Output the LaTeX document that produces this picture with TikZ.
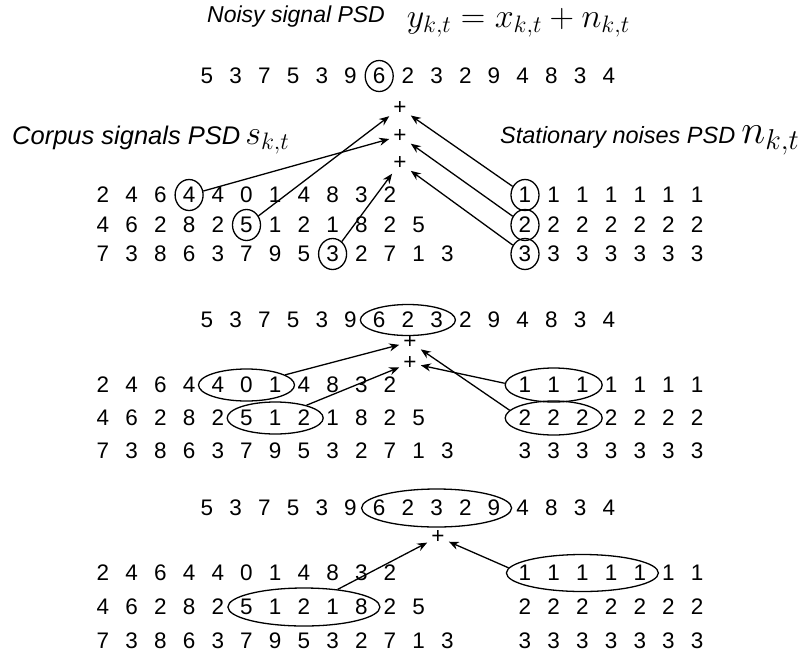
\RequirePackage{fix-cm}
\documentclass[tikz,border=0pt]{standalone}
\usepackage{fontspec}
\setmainfont{Liberation Sans}
\usetikzlibrary{arrows.meta,shapes.geometric}
\newcommand\digrow[4]{\foreach \d [count=\i from 0] in {#4} \node[dig] (#1-\i) at ({#2+\i*28.7},#3) {\d};}
\newcommand\bigmath[2]{{\fontsize{#1}{#1}\selectfont$#2$}}
\begin{document}
\begin{tikzpicture}[x=1pt,y=-1pt,
  dig/.style={inner sep=0pt, font=\fontsize{22.5}{25}\selectfont},
  plus/.style={inner sep=4pt, font=\fontsize{22.5}{25}\selectfont},
  ring/.style={draw, ellipse, inner sep=0pt, line width=1.3pt},
  arr/.style={line width=1.3pt, -{Stealth[length=10pt,width=8pt]}},
  lbl/.style={inner sep=0pt, anchor=base west}]
\useasboundingbox (0,0) rectangle (812,657);
% labels
\node[lbl] (title) at (207,22) {\fontsize{23}{26}\selectfont\itshape Noisy signal PSD\hspace{22pt}\raisebox{-5pt}{\bigmath{34}{y_{k,t}=x_{k,t}+n_{k,t}}}};
\node[lbl] (corpus) at (12,144) {\fontsize{25.5}{28}\selectfont\itshape Corpus signals PSD\hspace{5pt}\bigmath{34}{s_{k,t}}};
\node[lbl] (noise) at (500,143) {\fontsize{23.5}{27}\selectfont\itshape Stationary noises PSD\hspace{6pt}\bigmath{41}{n_{k,t}}};
% ---------- block 1
\digrow{T1}{207}{76}{5,3,7,5,3,9,6,2,3,2,9,4,8,3,4}
\digrow{La1}{103}{195}{2,4,6,4,4,0,1,4,8,3,2}
\digrow{Lb1}{103}{225}{4,6,2,8,2,5,1,2,1,8,2,5}
\digrow{Lc1}{103}{254}{7,3,8,6,3,7,9,5,3,2,7,1,3}
\digrow{Ra1}{525}{195}{1,1,1,1,1,1,1}
\digrow{Rb1}{525}{225}{2,2,2,2,2,2,2}
\digrow{Rc1}{525}{254}{3,3,3,3,3,3,3}
\node[plus] (p1a) at (400,108) {+};
\node[plus] (p1b) at (400,136) {+};
\node[plus] (p1c) at (400,163) {+};
\node[ring, minimum width=28pt, minimum height=31pt] (cT1) at (T1-6) {};
\node[ring, minimum width=28pt, minimum height=31pt] (cLa1) at (La1-3) {};
\node[ring, minimum width=28pt, minimum height=31pt] (cLb1) at (Lb1-5) {};
\node[ring, minimum width=28pt, minimum height=31pt] (cLc1) at (Lc1-8) {};
\node[ring, minimum width=28pt, minimum height=31pt] (cRa1) at (Ra1-0) {};
\node[ring, minimum width=28pt, minimum height=31pt] (cRb1) at (Rb1-0) {};
\node[ring, minimum width=28pt, minimum height=31pt] (cRc1) at (Rc1-0) {};
\draw[arr] (cLa1) -- (p1b);
\draw[arr] (cLb1) -- (p1a);
\draw[arr] (cLc1) -- (p1c);
\draw[arr] (cRa1) -- (p1a);
\draw[arr] (cRb1) -- (p1b);
\draw[arr] (cRc1) -- (p1c);
% ---------- block 2
\digrow{T2}{207}{320}{5,3,7,5,3,9,6,2,3,2,9,4,8,3,4}
\digrow{La2}{103}{385}{2,4,6,4,4,0,1,4,8,3,2}
\digrow{Lb2}{103}{418}{4,6,2,8,2,5,1,2,1,8,2,5}
\digrow{Lc2}{103}{451}{7,3,8,6,3,7,9,5,3,2,7,1,3}
\digrow{Ra2}{525}{385}{1,1,1,1,1,1,1}
\digrow{Rb2}{525}{418}{2,2,2,2,2,2,2}
\digrow{Rc2}{525}{451}{3,3,3,3,3,3,3}
\node[plus] (p2a) at (410,342) {+};
\node[plus] (p2b) at (410,363) {+};
\node[ring, minimum width=95pt, minimum height=31pt] (eT2) at (T2-7) {};
\node[ring, minimum width=96pt, minimum height=32pt] (eLa2) at (La2-5) {};
\node[ring, minimum width=96pt, minimum height=32pt] (eLb2) at (Lb2-6) {};
\node[ring, minimum width=97pt, minimum height=34pt] (eRa2) at (Ra2-1) {};
\node[ring, minimum width=97pt, minimum height=34pt] (eRb2) at (Rb2-1) {};
\draw[arr] (eLa2) -- (p2a);
\draw[arr] (eLb2) -- (p2b);
\draw[arr] (eRa2.178) -- (p2b);
\draw[arr] (eRb2.170) -- (p2a);
% ---------- block 3
\digrow{T3}{207}{508}{5,3,7,5,3,9,6,2,3,2,9,4,8,3,4}
\digrow{La3}{103}{573}{2,4,6,4,4,0,1,4,8,3,2}
\digrow{Lb3}{103}{607}{4,6,2,8,2,5,1,2,1,8,2,5}
\digrow{Lc3}{103}{641}{7,3,8,6,3,7,9,5,3,2,7,1,3}
\digrow{Ra3}{525}{573}{1,1,1,1,1,1,1}
\digrow{Rb3}{525}{607}{2,2,2,2,2,2,2}
\digrow{Rc3}{525}{641}{3,3,3,3,3,3,3}
\node[plus] (p3) at (438,537) {+};
\node[ring, minimum width=150pt, minimum height=38pt] (eT3) at (T3-8) {};
\node[ring, minimum width=152pt, minimum height=38pt] (eLb3) at (Lb3-7) {};
\node[ring, minimum width=152pt, minimum height=37pt] (eRa3) at (Ra3-2) {};
\draw[arr] (eLb3) -- (p3);
\draw[arr] (eRa3.176) -- (p3);
\end{tikzpicture}
\end{document}
